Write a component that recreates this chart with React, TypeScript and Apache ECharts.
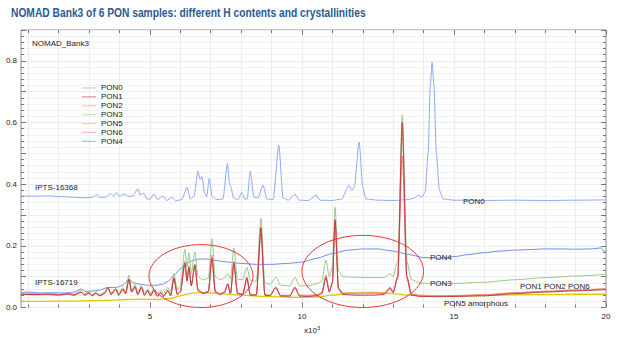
import React, { useEffect, useRef } from 'react';
import * as echarts from 'echarts';

const TITLE = 'NOMAD Bank3 of 6 PON samples: different H contents and crystallinities';
const X_MIN = 0.76;
const X_MAX = 20;
const Y_MIN = 0;
const Y_MAX = 0.9;
const xMajorTicks = [5, 10, 15, 20];
const xMinorTicks = [1, 2, 3, 4, 6, 7, 8, 9, 11, 12, 13, 14, 16, 17, 18, 19];
const xGridLines = [1, 2, 3, 4, 5, 6, 7, 8, 9, 10, 11, 12, 13, 14, 15, 16, 17, 18, 19];
const legendOrder = ['PON0', 'PON1', 'PON2', 'PON3', 'PON5', 'PON6', 'PON4'];

const pon0 = [
  [0.76, 0.362], [1.2, 0.361], [1.6, 0.362], [2.0, 0.36], [2.4, 0.358], [2.8, 0.356], [3.1, 0.357],
  [3.25, 0.366], [3.35, 0.357], [3.55, 0.358], [3.7, 0.37], [3.8, 0.362], [3.9, 0.372], [4.0, 0.361],
  [4.15, 0.368], [4.3, 0.36], [4.45, 0.362], [4.6, 0.385], [4.68, 0.365], [4.8, 0.37], [4.9, 0.352],
  [5.0, 0.352], [5.13, 0.368], [5.25, 0.35], [5.43, 0.361], [5.55, 0.347], [5.72, 0.357], [5.85, 0.346],
  [6.05, 0.35], [6.22, 0.39], [6.33, 0.352], [6.45, 0.36], [6.58, 0.442], [6.65, 0.415], [6.71, 0.425],
  [6.8, 0.37], [6.87, 0.36], [6.95, 0.418], [7.05, 0.36], [7.2, 0.35], [7.4, 0.352], [7.55, 0.467],
  [7.62, 0.4], [7.66, 0.392], [7.75, 0.355], [7.9, 0.35], [8.02, 0.373], [8.12, 0.352], [8.2, 0.352],
  [8.3, 0.442], [8.42, 0.358], [8.55, 0.355], [8.72, 0.396], [8.85, 0.352], [9.05, 0.35], [9.24, 0.526],
  [9.38, 0.355], [9.55, 0.348], [9.77, 0.367], [9.92, 0.348], [10.2, 0.347], [10.46, 0.364], [10.6, 0.348],
  [11.0, 0.347], [11.3, 0.352], [11.55, 0.396], [11.64, 0.38], [11.72, 0.39], [11.88, 0.536], [12.0, 0.39],
  [12.1, 0.352], [12.5, 0.348], [13.0, 0.347], [13.5, 0.35], [13.7, 0.355], [13.82, 0.364], [13.95, 0.358],
  [14.05, 0.375], [14.15, 0.5], [14.22, 0.72], [14.28, 0.795], [14.34, 0.72], [14.42, 0.5], [14.52, 0.38],
  [14.65, 0.352], [15, 0.348], [16, 0.347], [17, 0.348], [18, 0.347], [19, 0.348], [20, 0.349],
];

const pon4 = [
  [0.76, 0.049], [1.0, 0.05], [1.4, 0.047], [1.8, 0.048], [2.2, 0.047], [2.5, 0.05], [2.73, 0.06],
  [2.9, 0.052], [3.3, 0.055], [3.62, 0.065], [3.9, 0.065], [4.1, 0.072], [4.31, 0.092], [4.45, 0.08],
  [4.7, 0.075], [4.95, 0.072], [5.2, 0.072], [5.4, 0.075], [5.6, 0.085], [5.8, 0.105], [6.0, 0.125],
  [6.2, 0.142], [6.4, 0.152], [6.6, 0.157], [6.9, 0.157], [7.2, 0.152], [7.5, 0.148], [8.0, 0.143],
  [8.5, 0.14], [9.0, 0.14], [9.5, 0.143], [10.0, 0.147], [10.5, 0.16], [11.0, 0.175], [11.5, 0.186],
  [12.0, 0.19], [12.5, 0.19], [13.0, 0.183], [13.5, 0.172], [14.0, 0.162], [14.5, 0.16], [15.0, 0.165],
  [15.5, 0.172], [16.0, 0.178], [16.5, 0.183], [17.0, 0.186], [17.5, 0.188], [18.0, 0.19], [18.5, 0.19],
  [19.0, 0.189], [19.5, 0.19], [19.85, 0.193], [19.95, 0.18], [20, 0.185],
];

const pon3 = [
  [0.76, 0.046], [1.2, 0.045], [1.6, 0.047], [2.0, 0.043], [2.3, 0.046], [2.5, 0.044], [2.73, 0.055],
  [2.85, 0.045], [3.0, 0.05], [3.1, 0.042], [3.22, 0.05], [3.35, 0.043], [3.5, 0.05], [3.62, 0.062],
  [3.72, 0.048], [3.88, 0.06], [3.97, 0.045], [4.11, 0.065], [4.2, 0.05], [4.31, 0.105], [4.4, 0.055],
  [4.51, 0.075], [4.6, 0.05], [4.72, 0.072], [4.82, 0.048], [4.93, 0.06], [5.02, 0.045], [5.13, 0.062],
  [5.25, 0.045], [5.36, 0.055], [5.45, 0.046], [5.59, 0.065], [5.68, 0.05], [5.79, 0.11], [5.9, 0.058],
  [6.0, 0.07], [6.15, 0.19], [6.22, 0.13], [6.28, 0.177], [6.36, 0.11], [6.48, 0.18], [6.58, 0.1],
  [6.75, 0.09], [6.92, 0.095], [7.04, 0.223], [7.15, 0.1], [7.3, 0.09], [7.45, 0.095], [7.56, 0.11],
  [7.65, 0.093], [7.76, 0.193], [7.88, 0.092], [8.05, 0.09], [8.19, 0.13], [8.3, 0.088], [8.5, 0.085],
  [8.65, 0.29], [8.78, 0.08], [8.95, 0.075], [9.14, 0.098], [9.3, 0.072], [9.6, 0.07], [9.77, 0.098],
  [9.92, 0.07], [10.2, 0.07], [10.5, 0.078], [10.65, 0.085], [10.79, 0.154], [10.9, 0.1], [11.0, 0.13],
  [11.09, 0.325], [11.2, 0.12], [11.35, 0.1], [11.8, 0.098], [12.3, 0.097], [12.7, 0.097], [12.9, 0.11],
  [13.0, 0.1], [13.15, 0.15], [13.3, 0.625], [13.45, 0.15], [13.6, 0.09], [13.9, 0.079], [14.5, 0.077],
  [15, 0.078], [16, 0.082], [17, 0.09], [18, 0.097], [19, 0.102], [20, 0.108],
];

const pon5 = [
  [0.76, 0.021], [1.5, 0.02], [2.5, 0.021], [3.5, 0.023], [4.3, 0.026], [4.8, 0.027], [5.3, 0.026],
  [5.7, 0.03], [6.0, 0.038], [6.3, 0.045], [6.6, 0.048], [7.0, 0.047], [7.5, 0.044], [8.0, 0.04],
  [8.5, 0.037], [9.0, 0.035], [10.0, 0.033], [10.5, 0.034], [11.0, 0.04], [11.5, 0.046], [12.0, 0.049],
  [12.5, 0.049], [13.0, 0.045], [13.5, 0.04], [14.0, 0.037], [15.0, 0.037], [16.0, 0.039], [17.0, 0.041],
  [18.0, 0.042], [19.0, 0.043], [20.0, 0.043],
];

const pon2 = [
  [0.76, 0.044], [1.2, 0.043], [1.6, 0.044], [2.0, 0.042], [2.3, 0.045], [2.5, 0.041], [2.73, 0.05],
  [2.85, 0.041], [3.0, 0.047], [3.1, 0.039], [3.22, 0.046], [3.35, 0.039], [3.5, 0.045], [3.62, 0.063],
  [3.72, 0.043], [3.88, 0.058], [3.97, 0.041], [4.11, 0.058], [4.2, 0.046], [4.31, 0.088], [4.4, 0.05],
  [4.51, 0.066], [4.6, 0.043], [4.72, 0.064], [4.82, 0.041], [4.93, 0.054], [5.02, 0.039], [5.13, 0.054],
  [5.25, 0.038], [5.36, 0.048], [5.45, 0.038], [5.59, 0.054], [5.68, 0.04], [5.79, 0.09], [5.9, 0.044],
  [6.0, 0.052], [6.15, 0.138], [6.22, 0.088], [6.28, 0.125], [6.36, 0.072], [6.48, 0.132], [6.58, 0.058],
  [6.75, 0.048], [6.92, 0.053], [7.04, 0.152], [7.15, 0.053], [7.3, 0.045], [7.45, 0.05], [7.56, 0.074],
  [7.65, 0.047], [7.76, 0.138], [7.88, 0.047], [8.05, 0.044], [8.19, 0.09], [8.3, 0.043], [8.5, 0.042],
  [8.65, 0.25], [8.78, 0.042], [8.95, 0.04], [9.14, 0.063], [9.3, 0.04], [9.6, 0.04], [9.77, 0.062],
  [9.92, 0.04], [10.2, 0.04], [10.5, 0.042], [10.65, 0.048], [10.79, 0.095], [10.9, 0.054], [11.0, 0.08],
  [11.09, 0.275], [11.2, 0.064], [11.35, 0.048], [11.8, 0.048], [12.3, 0.049], [12.7, 0.048], [12.9, 0.064],
  [13.0, 0.05], [13.15, 0.1], [13.3, 0.575], [13.45, 0.1], [13.6, 0.044], [13.9, 0.04], [14.5, 0.038],
  [15, 0.039], [16, 0.042], [17, 0.048], [18, 0.053], [19, 0.057], [20, 0.062],
];

const pon6 = [
  [0.76, 0.042], [1.2, 0.041], [1.6, 0.042], [2.0, 0.04], [2.3, 0.043], [2.5, 0.04], [2.73, 0.049],
  [2.85, 0.04], [3.0, 0.046], [3.1, 0.038], [3.22, 0.045], [3.35, 0.038], [3.5, 0.044], [3.62, 0.064],
  [3.72, 0.042], [3.88, 0.059], [3.97, 0.04], [4.11, 0.059], [4.2, 0.045], [4.31, 0.09], [4.4, 0.05],
  [4.51, 0.067], [4.6, 0.042], [4.72, 0.065], [4.82, 0.04], [4.93, 0.055], [5.02, 0.038], [5.13, 0.055],
  [5.25, 0.037], [5.36, 0.048], [5.45, 0.037], [5.59, 0.055], [5.68, 0.039], [5.79, 0.097], [5.9, 0.043],
  [6.0, 0.052], [6.15, 0.15], [6.22, 0.09], [6.28, 0.135], [6.36, 0.074], [6.48, 0.14], [6.58, 0.057],
  [6.75, 0.047], [6.92, 0.052], [7.04, 0.17], [7.15, 0.052], [7.3, 0.044], [7.45, 0.05], [7.56, 0.078],
  [7.65, 0.046], [7.76, 0.15], [7.88, 0.046], [8.05, 0.043], [8.19, 0.1], [8.3, 0.041], [8.5, 0.041],
  [8.65, 0.24], [8.78, 0.041], [8.95, 0.039], [9.14, 0.066], [9.3, 0.038], [9.6, 0.038], [9.77, 0.066],
  [9.92, 0.038], [10.2, 0.037], [10.5, 0.04], [10.65, 0.047], [10.79, 0.105], [10.9, 0.052], [11.0, 0.082],
  [11.09, 0.28], [11.2, 0.062], [11.35, 0.045], [11.8, 0.044], [12.3, 0.045], [12.7, 0.045], [12.9, 0.066],
  [13.0, 0.05], [13.15, 0.095], [13.3, 0.49], [13.45, 0.095], [13.6, 0.042], [13.9, 0.038], [14.5, 0.037],
  [15, 0.038], [16, 0.041], [17, 0.047], [18, 0.052], [19, 0.056], [20, 0.06],
];

const pon1 = [
  [0.76, 0.043], [1.2, 0.042], [1.6, 0.043], [2.0, 0.041], [2.3, 0.044], [2.5, 0.04], [2.73, 0.05],
  [2.85, 0.04], [3.0, 0.047], [3.1, 0.038], [3.22, 0.046], [3.35, 0.038], [3.5, 0.045], [3.62, 0.065],
  [3.72, 0.042], [3.88, 0.06], [3.97, 0.04], [4.11, 0.06], [4.2, 0.045], [4.31, 0.092], [4.4, 0.05],
  [4.51, 0.068], [4.6, 0.042], [4.72, 0.066], [4.82, 0.04], [4.93, 0.055], [5.02, 0.038], [5.13, 0.055],
  [5.25, 0.036], [5.36, 0.048], [5.45, 0.036], [5.59, 0.055], [5.68, 0.038], [5.79, 0.095], [5.9, 0.042],
  [6.0, 0.05], [6.15, 0.144], [6.22, 0.085], [6.28, 0.13], [6.36, 0.07], [6.48, 0.138], [6.58, 0.055],
  [6.75, 0.045], [6.92, 0.05], [7.04, 0.16], [7.15, 0.05], [7.3, 0.042], [7.45, 0.048], [7.56, 0.075],
  [7.65, 0.045], [7.76, 0.144], [7.88, 0.045], [8.05, 0.042], [8.19, 0.095], [8.3, 0.04], [8.5, 0.04],
  [8.65, 0.26], [8.78, 0.04], [8.95, 0.038], [9.14, 0.065], [9.3, 0.037], [9.6, 0.037], [9.77, 0.065],
  [9.92, 0.037], [10.2, 0.036], [10.5, 0.038], [10.65, 0.045], [10.79, 0.098], [10.9, 0.05], [11.0, 0.08],
  [11.09, 0.285], [11.2, 0.06], [11.35, 0.042], [11.8, 0.04], [12.3, 0.04], [12.7, 0.042], [12.9, 0.062],
  [13.0, 0.048], [13.15, 0.1], [13.3, 0.6], [13.45, 0.1], [13.6, 0.04], [13.9, 0.036], [14.5, 0.035],
  [15, 0.036], [16, 0.038], [17, 0.045], [18, 0.05], [19, 0.054], [20, 0.058],
];

// annotation ellipses (in data units)
const ellipseAnnotations = [
  { cx: 6.68, cy: 0.102, rx: 1.71, ry: 0.102 },
  { cx: 12.0, cy: 0.117, rx: 2.0, ry: 0.117 },
];

const FONT = '"Liberation Sans", Arial, sans-serif';

const lineColors: Record<string, string> = {
  PON0: '#8EA8F2',
  PON4: '#6D8CEF',
  PON3: '#98CB82',
  PON5: '#D6CD00',
  PON2: '#E2A868',
  PON6: '#F07D9B',
  PON1: '#BE3A42',
};

export default function App() {
  const ref = useRef<HTMLDivElement>(null);
  useEffect(() => {
    if (!ref.current) return;
    const chart = echarts.init(ref.current, null, { renderer: 'svg' });
    const mk = (name: string, data: number[][], z: number, width = 1) => ({
      name,
      type: 'line',
      data,
      xAxisIndex: 0,
      yAxisIndex: 0,
      symbol: 'none',
      showSymbol: false,
      smooth: 0.25,
      smoothMonotone: 'x',
      silent: true,
      z,
      lineStyle: { color: lineColors[name], width },
      itemStyle: { color: lineColors[name] },
    });
    const baseX = {
      type: 'value',
      min: X_MIN,
      max: X_MAX,
      gridIndex: 0,
      axisLine: { show: false },
      splitLine: { show: false },
    };
    const tickStyle = { color: '#777', width: 1 };
    const series: any[] = [
      {
        name: 'grid',
        type: 'line',
        data: [],
        symbol: 'none',
        silent: true,
        z: 0,
        markLine: {
          silent: true,
          z: 0,
          symbol: ['none', 'none'],
          label: { show: false },
          lineStyle: { color: '#EDEDED', type: 'solid', width: 1 },
          data: xGridLines.map((v) => ({ xAxis: v })),
        },
      },
      mk('PON0', pon0, 2),
      mk('PON4', pon4, 3),
      mk('PON3', pon3, 4),
      mk('PON5', pon5, 5, 1.3),
      mk('PON2', pon2, 6),
      mk('PON6', pon6, 7),
      mk('PON1', pon1, 8),
    ];
    const txt = (id: string, x: number, y: number, text: string) => ({
      id,
      type: 'text',
      x,
      y,
      z: 100,
      silent: true,
      style: { text, fontSize: 8, fontFamily: FONT, fill: '#222', verticalAlign: 'middle' },
    });
    chart.setOption({
      animation: false,
      backgroundColor: '#ffffff',
      textStyle: { fontFamily: FONT },
      grid: {
        left: 21,
        right: 17,
        top: 30,
        bottom: 29.5,
        show: true,
        borderColor: '#8C8C8C',
        borderWidth: 1,
        backgroundColor: 'transparent',
      },
      legend: {
        orient: 'vertical',
        left: 77,
        top: 78.5,
        z: 100,
        icon: 'rect',
        itemWidth: 14,
        itemHeight: 1.2,
        itemGap: 0,
        selectedMode: false,
        itemStyle: { borderWidth: 0, opacity: 0.55 },
        textStyle: { fontSize: 8, color: '#222', fontFamily: FONT, lineHeight: 8.9 },
        data: legendOrder,
      },
      xAxis: [
        {
          ...baseX,
          position: 'bottom',
          axisTick: { show: true, inside: true, length: 5, lineStyle: tickStyle, customValues: xMajorTicks },
          axisLabel: {
            show: true,
            customValues: xMajorTicks,
            fontSize: 8,
            color: '#222',
            margin: 5,
            fontFamily: FONT,
            formatter: (v: number) => String(v),
          },
        },
        {
          ...baseX,
          position: 'bottom',
          axisTick: { show: true, inside: true, length: 3, lineStyle: tickStyle, customValues: xMinorTicks },
          axisLabel: { show: false },
        },
        {
          ...baseX,
          position: 'top',
          axisTick: { show: true, inside: true, length: 5, lineStyle: tickStyle, customValues: xMajorTicks },
          axisLabel: { show: false },
        },
        {
          ...baseX,
          position: 'top',
          axisTick: { show: true, inside: true, length: 3, lineStyle: tickStyle, customValues: xMinorTicks },
          axisLabel: { show: false },
        },
      ],
      yAxis: [
        {
          type: 'value',
          min: Y_MIN,
          max: Y_MAX,
          interval: 0.1,
          position: 'left',
          axisLine: { show: false },
          axisTick: { show: true, inside: true, length: 5, lineStyle: tickStyle },
          minorTick: { show: true, splitNumber: 5, length: 3, lineStyle: tickStyle },
          splitLine: { show: true, lineStyle: { color: '#EDEDED', width: 1 } },
          minorSplitLine: { show: true, lineStyle: { color: '#F3F3F3', width: 1 } },
          axisLabel: {
            fontSize: 8,
            color: '#222',
            margin: 4,
            fontFamily: FONT,
            formatter: (v: number) => {
              const k = Math.round(v * 10);
              return Math.abs(v * 10 - k) < 1e-6 && k % 2 === 0 ? (k / 10).toFixed(1) : '';
            },
          },
        },
        {
          type: 'value',
          min: Y_MIN,
          max: Y_MAX,
          interval: 0.1,
          position: 'right',
          axisLine: { show: false },
          axisTick: { show: true, inside: true, length: 5, lineStyle: tickStyle },
          minorTick: { show: true, splitNumber: 5, length: 3, lineStyle: tickStyle },
          splitLine: { show: false },
          axisLabel: { show: false },
        },
      ],
      series,
      graphic: [
        {
          id: 'title',
          type: 'text',
          x: 11,
          y: 12.5,
          z: 100,
          scaleX: 0.82,
          style: {
            text: TITLE,
            fontSize: 12.5,
            fontWeight: 'bold',
            fontFamily: FONT,
            fill: '#2B5B93',
            verticalAlign: 'middle',
          },
        },
        txt('t1', 32, 43, 'NOMAD_Bank3'),
        txt('t2', 35, 187, 'IPTS-16368'),
        txt('t3', 35, 282, 'IPTS-16719'),
        txt('t4', 463, 201, 'PON0'),
        txt('t5', 430, 257, 'PON4'),
        txt('t6', 430, 283, 'PON3'),
        txt('t7', 520, 286, 'PON1 PON2 PON6'),
        txt('t8', 444, 303, 'PON5 amorphous'),
        {
          id: 't9',
          type: 'text',
          x: 304,
          y: 330,
          z: 100,
          style: {
            text: '{a|x10}{b|3}',
            fontFamily: FONT,
            fill: '#222',
            verticalAlign: 'middle',
            rich: {
              a: { fontSize: 8, fontFamily: FONT, fill: '#222' },
              b: { fontSize: 5.5, fontFamily: FONT, fill: '#222', verticalAlign: 'top', padding: [0, 0, 5, 0] },
            },
          },
        },
      ],
    });

    const ellipseGraphics = ellipseAnnotations.map((e, i) => {
      const c = chart.convertToPixel({ xAxisIndex: 0, yAxisIndex: 0 }, [e.cx, e.cy]) as number[];
      const c2 = chart.convertToPixel({ xAxisIndex: 0, yAxisIndex: 0 }, [e.cx + e.rx, e.cy + e.ry]) as number[];
      return {
        id: 'ell' + i,
        type: 'ellipse',
        z: 50,
        silent: true,
        shape: { cx: c[0], cy: c[1], rx: Math.abs(c2[0] - c[0]), ry: Math.abs(c[1] - c2[1]) },
        style: { fill: 'none', stroke: '#EE3535', lineWidth: 1 },
      };
    });
    chart.setOption({ graphic: ellipseGraphics });

    return () => chart.dispose();
  }, []);
  return <div ref={ref} style={{ position: 'fixed', left: 0, top: 0, width: 623, height: 337 }} />;
}
